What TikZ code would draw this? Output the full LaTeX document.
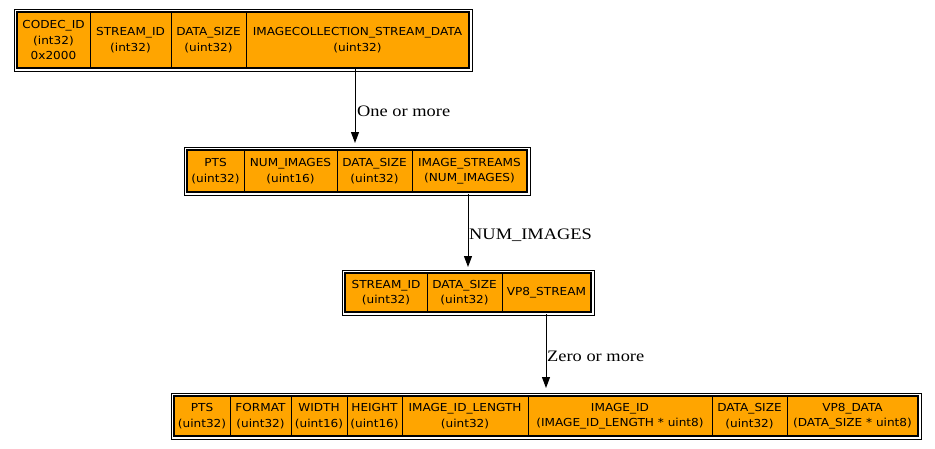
\documentclass[tikz,border=0pt]{standalone}
\usepackage{fontspec}
\usetikzlibrary{arrows.meta}
\newfontfamily\recfont[FakeStretch=1.1]{DejaVu Sans}
\newfontfamily\lblfont[FakeStretch=1.15]{Liberation Serif}
\definecolor{recfill}{HTML}{FFA500}
\begin{document}
\begin{tikzpicture}[x=1pt,y=-1pt,
  cell/.style={draw, line width=1pt, fill=recfill, inner sep=0pt, align=center,
    font=\recfont\fontsize{11}{15.5}\selectfont, text=black},
  recbox/.style={draw, line width=2pt, inner sep=0pt},
  recouter/.style={draw, line width=0.7pt},
  arr/.style={line width=1pt, -{Triangle[length=11pt,width=8pt]}},
  lbl/.style={font=\lblfont\fontsize{16}{19}\selectfont, inner sep=0pt, anchor=base west}]
\fill[white] (0,0) rectangle (935,448);
\useasboundingbox (0,0) rectangle (935,448);

% Record 1
\node[cell, minimum width=73, minimum height=56] (a1) at (53.5,40) {CODEC\_ID\\(int32)\\0x2000};
\node[cell, minimum width=81, minimum height=56] (a2) at (130.5,40) {STREAM\_ID\\(int32)};
\node[cell, minimum width=75, minimum height=56] (a3) at (208.5,40) {DATA\_SIZE\\(uint32)};
\node[cell, minimum width=223, minimum height=56] (a4) at (357.5,40) {IMAGECOLLECTION\_STREAM\_DATA\\(uint32)};
\node[recbox, minimum width=452, minimum height=56] (r1) at (243,40) {};
\draw[recouter] ([shift={(-2pt,2pt)}]r1.north west) rectangle ([shift={(2pt,-2pt)}]r1.south east);

% Record 2
\node[cell, minimum width=57, minimum height=42] (b1) at (215.5,171) {PTS\\(uint32)};
\node[cell, minimum width=93, minimum height=42] (b2) at (290.5,171) {NUM\_IMAGES\\(uint16)};
\node[cell, minimum width=75, minimum height=42] (b3) at (374.5,171) {DATA\_SIZE\\(uint32)};
\node[cell, minimum width=115, minimum height=42] (b4) at (469.5,171) {IMAGE\_STREAMS\\(NUM\_IMAGES)};
\node[recbox, minimum width=340, minimum height=42] (r2) at (357,171) {};
\draw[recouter] ([shift={(-2pt,2pt)}]r2.north west) rectangle ([shift={(2pt,-2pt)}]r2.south east);

% Record 3
\node[cell, minimum width=82, minimum height=39] (c1) at (386,292.5) {STREAM\_ID\\(uint32)};
\node[cell, minimum width=75, minimum height=39] (c2) at (464.5,292.5) {DATA\_SIZE\\(uint32)};
\node[cell, minimum width=89, minimum height=39] (c3) at (546.5,292.5) {VP8\_STREAM};
\node[recbox, minimum width=246, minimum height=39] (r3) at (468,292.5) {};
\draw[recouter] ([shift={(-2pt,2pt)}]r3.north west) rectangle ([shift={(2pt,-2pt)}]r3.south east);

% Record 4
\node[cell, minimum width=56, minimum height=40] (d1) at (202,416) {PTS\\(uint32)};
\node[cell, minimum width=61, minimum height=40] (d2) at (260.5,416) {FORMAT\\(uint32)};
\node[cell, minimum width=56, minimum height=40] (d3) at (319,416) {WIDTH\\(uint16)};
\node[cell, minimum width=55, minimum height=40] (d4) at (374.5,416) {HEIGHT\\(uint16)};
\node[cell, minimum width=126, minimum height=40] (d5) at (465,416) {IMAGE\_ID\_LENGTH\\(uint32)};
\node[cell, minimum width=184, minimum height=40] (d6) at (620,416) {IMAGE\_ID\\(IMAGE\_ID\_LENGTH * uint8)};
\node[cell, minimum width=75, minimum height=40] (d7) at (749.5,416) {DATA\_SIZE\\(uint32)};
\node[cell, minimum width=131, minimum height=40] (d8) at (852.5,416) {VP8\_DATA\\(DATA\_SIZE * uint8)};
\node[recbox, minimum width=744, minimum height=40] (r4) at (546,416) {};
\draw[recouter] ([shift={(-2pt,2pt)}]r4.north west) rectangle ([shift={(2pt,-2pt)}]r4.south east);

% Connectors
\coordinate (s1) at ([xshift=-2.5pt]a4.south);
\coordinate (t1) at (s1 |- r2.north);
\draw[arr] (s1) -- ([yshift=6pt]t1);
\coordinate (s2) at ([xshift=-1.5pt]b4.south);
\coordinate (t2) at (s2 |- r3.north);
\draw[arr] ([yshift=-1pt]s2) -- ([yshift=5pt]t2);
\coordinate (s3) at ([xshift=-0.5pt]c3.south);
\coordinate (t3) at (s3 |- r4.north);
\draw[arr] ([yshift=-1.5pt]s3) -- ([yshift=7pt]t3);

% Edge labels
\node[lbl] (l1) at (357,116.5) {One or more};
\node[lbl] (l2) at (469,239) {NUM\_IMAGES};
\node[lbl] (l3) at (547,361) {Zero or more};
\end{tikzpicture}
\end{document}
